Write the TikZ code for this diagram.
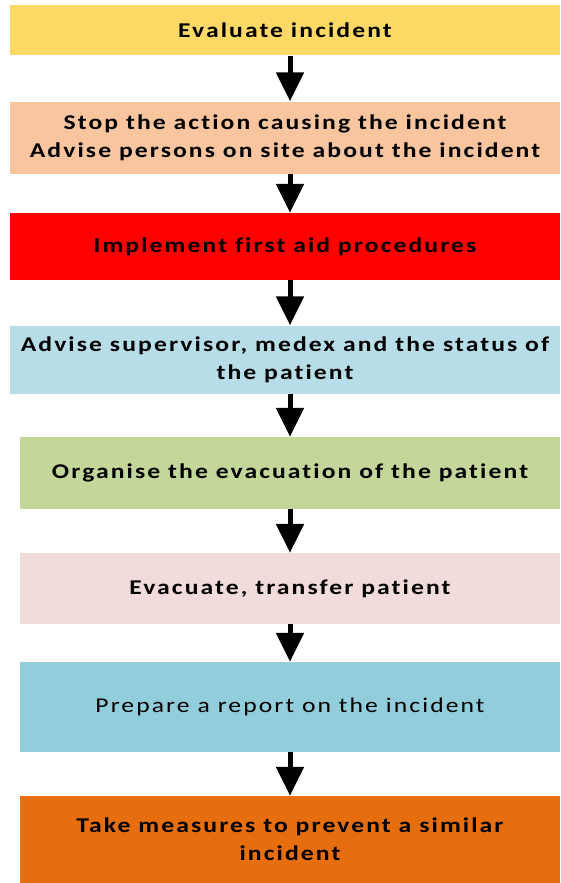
\documentclass[tikz,border=0pt]{standalone}
\usepackage{fontspec}
\setmainfont[Ligatures=NoCommon]{Carlito}
\usetikzlibrary{arrows.meta}
\definecolor{cYellow}{HTML}{FFD966}
\definecolor{cPeach}{HTML}{F8C59E}
\definecolor{cRed}{HTML}{FF0000}
\definecolor{cLBlue}{HTML}{B7DEE8}
\definecolor{cGreen}{HTML}{C4D79B}
\definecolor{cPink}{HTML}{F2DCDB}
\definecolor{cBlue}{HTML}{92CDDC}
\definecolor{cOrange}{HTML}{E66E0E}
\begin{document}
\begin{tikzpicture}[x=1pt,y=-1pt,
  box/.style={draw=none, inner sep=0pt, align=center, text=black,
    font=\fontsize{21}{28}\selectfont\bfseries\addfontfeatures{FakeStretch=1.22,LetterSpace=10}},
  plain/.style={font=\fontsize{21}{28}\selectfont\addfontfeatures{FakeStretch=1.22,LetterSpace=10}},
  flow/.style={line width=5pt, -{Triangle[width=27pt,length=29pt]}}]
\useasboundingbox (0,0) rectangle (560,883);
\node[box, fill=cYellow, minimum width=550pt, minimum height=50pt] (b1) at (285,30.5) {Evaluate incident};
\node[box, fill=cPeach, minimum width=550pt, minimum height=72pt] (b2) at (285,137.5) {Stop the action causing the incident\\Advise persons on site about the incident};
\node[box, fill=cRed, minimum width=550pt, minimum height=67pt] (b3) at (285,246.5) {Implement first aid procedures};
\node[box, fill=cLBlue, minimum width=550pt, minimum height=68pt] (b4) at (285,359.5) {Advise supervisor, medex and the status of\\the patient};
\node[box, fill=cGreen, minimum width=540pt, minimum height=72pt] (b5) at (290,473) {Organise the evacuation of the patient};
\node[box, fill=cPink, minimum width=540pt, minimum height=71pt] (b6) at (290,588.5) {Evacuate, transfer patient};
\node[box, plain, fill=cBlue, minimum width=540pt, minimum height=90pt] (b7) at (290,707) {Prepare a report on the incident};
\node[box, fill=cOrange, minimum width=540pt, minimum height=87pt] (b8) at (290,839.5) {Take measures to prevent a similar\\incident};
\foreach \a/\b in {b1/b2,b2/b3,b3/b4,b4/b5,b5/b6,b6/b7,b7/b8}
  \draw[flow] (\a.south -| 290,0) -- (\b.north -| 290,0);
\end{tikzpicture}
\end{document}
